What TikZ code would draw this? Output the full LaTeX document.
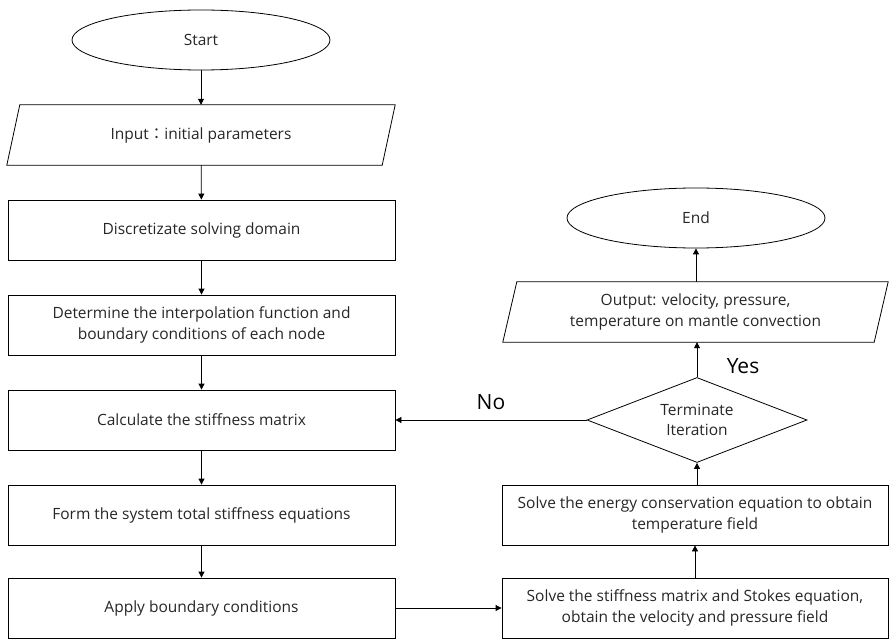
\documentclass[tikz,border=0pt]{standalone}
\usepackage{fontspec}
\setmainfont{Open Sans}
\newfontfamily\cjk{Noto Sans CJK TC}
\usetikzlibrary{shapes.geometric,arrows.meta}
\begin{document}
\begin{tikzpicture}[x=1pt,y=-1pt,
  txt/.style={font=\fontsize{15.5}{20.5}\selectfont, text=black!85, align=center},
  box/.style={txt, draw, line width=0.8pt, minimum height=60pt, inner sep=0pt},
  io/.style={txt, minimum height=60pt, inner sep=0pt},
  term/.style={txt, draw, ellipse, line width=0.8pt, minimum width=258pt, minimum height=60pt, inner sep=0pt},
  decide/.style={txt, draw, diamond, aspect=2.6, line width=0.8pt, minimum width=220pt, minimum height=85pt, inner sep=0pt},
  flow/.style={line width=0.8pt, -{Triangle[length=6pt,width=6pt]}},
  lbl/.style={font=\fontsize{21}{24}\selectfont, text=black}
]
\useasboundingbox (0,0) rectangle (889,639);

% left column
\node[term] (start) at (201,40) {Start};
\node[io, minimum width=388pt] (in) at (201,135) {Input{\cjk ：}initial parameters};
\draw[line width=0.8pt] ([xshift=13pt]in.north west) -- (in.north east)
  -- ([xshift=-13pt]in.south east) -- (in.south west) -- cycle;
\node[box, minimum width=387pt] (disc) at (201.5,230) {Discretizate solving domain};
\node[box, minimum width=387pt] (det) at (201.5,325) {Determine the interpolation function and\\boundary conditions of each node};
\node[box, minimum width=387pt] (calc) at (201.5,420) {Calculate the stiffness matrix};
\node[box, minimum width=387pt] (form) at (201.5,515) {Form the system total stiffness equations};
\node[box, minimum width=387pt] (apply) at (201.5,608) {Apply boundary conditions};

% right column
\node[term] (end) at (696,218) {End};
\node[io, minimum width=385pt] (out) at (695.5,312) {Output: velocity, pressure,\\temperature on mantle convection};
\draw[line width=0.8pt] ([xshift=14pt]out.north west) -- (out.north east)
  -- ([xshift=-14pt]out.south east) -- (out.south west) -- cycle;
\node[decide] (dec) at (697,420) {Terminate\\Iteration};
\node[box, minimum width=386pt] (energy) at (695,515) {Solve the energy conservation equation to obtain\\temperature field};
\node[box, minimum width=386pt] (solve) at (695,608) {Solve the stiffness matrix and Stokes equation,\\obtain the velocity and pressure field};

% connectors
\draw[flow] (start) -- (in);
\draw[flow] (in) -- (disc);
\draw[flow] (disc) -- (det);
\draw[flow] (det) -- (calc);
\draw[flow] (calc) -- (form);
\draw[flow] (form) -- (apply);
\draw[flow] (apply.east) -- (solve.west);
\draw[flow] (solve.north -| energy.south) -- (energy.south);
\draw[flow] (energy.north -| dec.south) -- (dec.south);
\draw[flow] (dec.north) -- (dec.north |- out.south);
\draw[flow] (out.north -| end.south) -- (end.south);
\draw[flow] (dec.west) -- (calc.east);

\node[lbl] (no) at (491,402) {No};
\node[lbl] (yes) at (743,366) {Yes};
\end{tikzpicture}
\end{document}
